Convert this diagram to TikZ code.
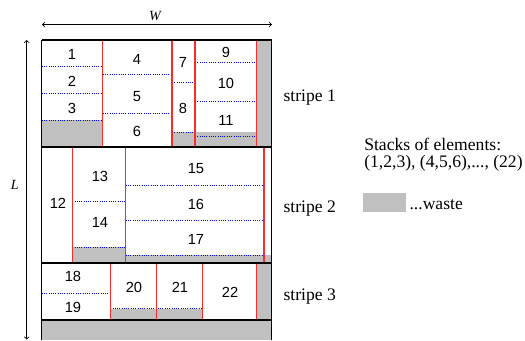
\documentclass[tikz,border=0pt]{standalone}
\usepackage{fontspec}
\setmainfont{Liberation Serif}
\setsansfont{Liberation Sans}
\definecolor{wastegray}{RGB}{192,192,192}
\definecolor{cutred}{RGB}{245,45,45}
\tikzset{
  waste/.style={fill=wastegray,draw=none},
  cut/.style={draw=cutred,line width=0.8pt},
  stack/.style={draw=blue,densely dotted,line width=0.7pt},
  border/.style={draw=black,line width=1.6pt},
  num/.style={font=\sffamily\fontsize{11}{13}\selectfont,inner sep=0pt},
  lbl/.style={font=\fontsize{13.2}{15.5}\selectfont,inner sep=0pt,anchor=base west},
  dim/.style={font=\itshape\fontsize{10.5}{12}\selectfont,inner sep=0pt},
}
\begin{document}
\begin{tikzpicture}[x=0.75pt,y=-0.75pt]
  \useasboundingbox (0,0) rectangle (525,340);
  % waste
  \fill[waste] (41.7,120.3) rectangle (102.7,146.7);
  \fill[waste] (172,132) rectangle (256.3,146.7);
  \fill[waste] (256.3,40) rectangle (271.7,146.7);
  \fill[waste] (72.3,247) rectangle (125.7,262.7);
  \fill[waste] (125.7,255) rectangle (271.7,262.7);
  \fill[waste] (110.3,308.7) rectangle (202.7,320);
  \fill[waste] (256.3,262.7) rectangle (271.7,320);
  \fill[waste] (41.7,320) rectangle (271.7,340);
  % stacks, stripe 1
  \foreach \y in {66.7,93.7,120.3} \draw[stack] (41.7,\y) -- (102.7,\y);
  \foreach \y in {74.7,113} \draw[stack] (102.7,\y) -- (172,\y);
  \foreach \y in {82,132} \draw[stack] (172,\y) -- (195,\y);
  \foreach \y in {62.7,101.3,136} \draw[stack] (195,\y) -- (256.3,\y);
  % stacks, stripe 2
  \foreach \y in {201,247} \draw[stack] (72.3,\y) -- (125.7,\y);
  \foreach \y in {185.7,220.3,255} \draw[stack] (125.7,\y) -- (264,\y);
  % stacks, stripe 3
  \draw[stack] (41.7,293.3) -- (110.3,293.3);
  \draw[stack] (110.3,308.7) -- (202.7,308.7);
  % cuts
  \foreach \x in {102.7,172,195,256.3} \draw[cut] (\x,40) -- (\x,146.7);
  \foreach \x in {72.3,125.7,264} \draw[cut] (\x,146.7) -- (\x,262.7);
  \foreach \x in {110.3,156.7,202.7,256.3} \draw[cut] (\x,262.7) -- (\x,320);
  % sheet
  \draw[line width=0.8pt] (41.7,40) -- (41.7,340);
  \draw[line width=0.8pt] (271.7,40) -- (271.7,340);
  \foreach \y in {40,146.7,262.7,320} \draw[border] (41.7,\y) -- (271.7,\y);
  % elements
  \node[num] (n1) at (72,54.3) {1};
  \node[num] (n2) at (72,81) {2};
  \node[num] (n3) at (72,108) {3};
  \node[num] (n4) at (137,59) {4};
  \node[num] (n5) at (137,97) {5};
  \node[num] (n6) at (137,131) {6};
  \node[num] (n7) at (183,62) {7};
  \node[num] (n8) at (183,108) {8};
  \node[num] (n9) at (226,52) {9};
  \node[num] (n10) at (226,83) {10};
  \node[num] (n11) at (226,120) {11};
  \node[num] (n12) at (58,203.3) {12};
  \node[num] (n13) at (100,176.7) {13};
  \node[num] (n14) at (100,222.7) {14};
  \node[num] (n15) at (196,169) {15};
  \node[num] (n16) at (196,204) {16};
  \node[num] (n17) at (196,239) {17};
  \node[num] (n18) at (73,276.7) {18};
  \node[num] (n19) at (73,307.7) {19};
  \node[num] (n20) at (134,287.7) {20};
  \node[num] (n21) at (180,287.7) {21};
  \node[num] (n22) at (230,292.7) {22};
  % stripes
  \node[lbl] (stripe1) at (283.3,101.7) {stripe 1};
  \node[lbl] (stripe2) at (283.3,212.3) {stripe 2};
  \node[lbl] (stripe3) at (283.3,300) {stripe 3};
  % legend
  \node[lbl] (stacks) at (364,150.7) {Stacks of elements:};
  \node[lbl] (stacklist) at (364,167.3) {(1,2,3), (4,5,6),..., (22)};
  \fill[waste] (363.3,193.3) rectangle (405.7,212.3);
  \node[lbl] (wastetext) at (409.3,209) {...waste};
  % dimensions
  \coordinate (Wleft) at (42,24.5);
  \coordinate (Wright) at (272,24.5);
  \draw[<->,line width=0.6pt] (Wleft) -- (Wright);
  \node[dim] (W) at (155,16) {W};
  \coordinate (Ltop) at (26.7,40);
  \coordinate (Lbottom) at (26.7,339.5);
  \draw[<->,line width=0.6pt] (Ltop) -- (Lbottom);
  \node[dim] (L) at (14.7,185) {L};
\end{tikzpicture}
\end{document}
